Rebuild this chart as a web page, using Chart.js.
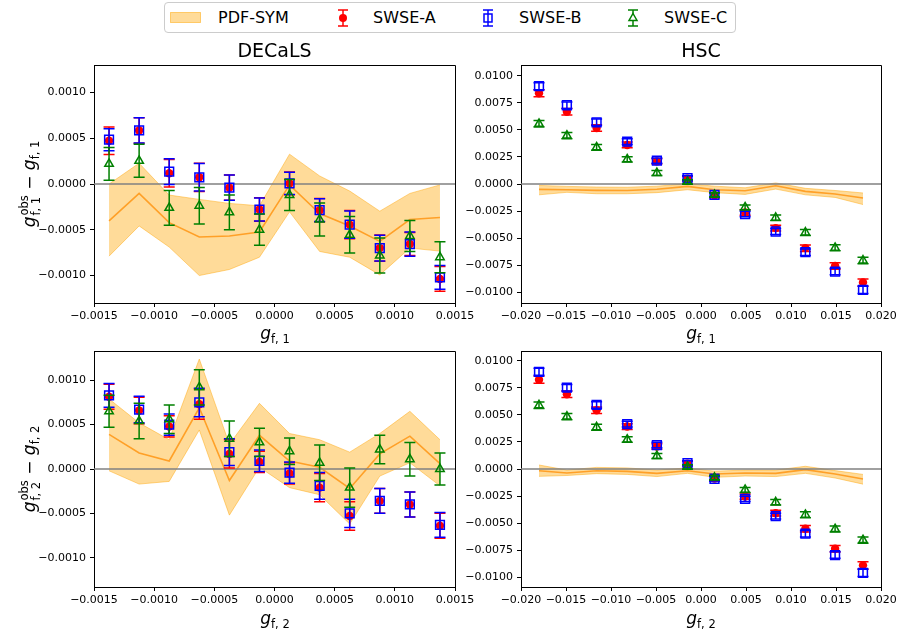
<!DOCTYPE html>
<html><head><meta charset="utf-8">
<script src="https://cdn.jsdelivr.net/npm/chart.js@4.4.1/dist/chart.umd.min.js"></script>
<style>
html,body{margin:0;padding:0;background:#fff;}
body{width:900px;height:635px;position:relative;overflow:hidden;font-family:"DejaVu Sans",sans-serif;color:#000;}
canvas{position:absolute;}
#legend{position:absolute;left:164px;top:2px;width:570px;height:29px;border:1px solid #cccccc;border-radius:4px;background:#fff;}
#legend .it{position:absolute;top:0;height:29px;line-height:29px;font-size:16px;}
#legend svg{position:absolute;}
.xlab{position:absolute;top:323px;transform:translateX(-50%);font-size:17px;line-height:20px;white-space:nowrap;}
.xlab.b{top:608px;}
.ylab{position:absolute;left:30px;transform:translate(-50%,-50%) rotate(-90deg);white-space:nowrap;font-size:17px;line-height:20px;}
.m i{font-family:"DejaVu Sans",sans-serif;font-style:italic;}
.m sub{font-size:11.5px;vertical-align:-0.35em;line-height:0;}
.ss{display:inline-block;vertical-align:-0.42em;font-size:11.5px;line-height:12px;margin-left:1px;}
.ss span{display:block;}
</style></head><body>

<div id="legend">
  <svg style="left:5px;top:9px" width="32" height="12"><rect x="0.5" y="0.5" width="30" height="10" fill="rgba(255,165,0,0.4)" stroke="rgba(255,165,0,0.5)"/></svg>
  <div class="it" style="left:53px">PDF-SYM</div>
  <svg style="left:167px;top:4px" width="22" height="22"><g stroke="#ff0000" stroke-width="1.5"><line x1="11" y1="3" x2="11" y2="19"/><line x1="6" y1="3" x2="16" y2="3"/><line x1="6" y1="19" x2="16" y2="19"/></g><circle cx="11" cy="11" r="4" fill="#ff0000"/></svg>
  <div class="it" style="left:208px">SWSE-A</div>
  <svg style="left:312px;top:4px" width="22" height="22"><g stroke="#0000ff" stroke-width="1.5"><line x1="11" y1="3" x2="11" y2="19"/><line x1="6" y1="3" x2="16" y2="3"/><line x1="6" y1="19" x2="16" y2="19"/><rect x="7" y="7" width="8" height="8" fill="none"/></g></svg>
  <div class="it" style="left:354px">SWSE-B</div>
  <svg style="left:457px;top:4px" width="22" height="22"><g stroke="#008000" stroke-width="1.5"><line x1="11" y1="3" x2="11" y2="19"/><line x1="6" y1="3" x2="16" y2="3"/><line x1="6" y1="19" x2="16" y2="19"/><polygon points="11,6.5 15,13.5 7,13.5" fill="#fff"/></g></svg>
  <div class="it" style="left:499px">SWSE-C</div>
</div>

<canvas id="c1" width="480" height="300" style="left:0;top:36px"></canvas>
<canvas id="c2" width="460" height="300" style="left:440px;top:36px"></canvas>
<canvas id="c3" width="480" height="300" style="left:0;top:321px"></canvas>
<canvas id="c4" width="460" height="300" style="left:440px;top:321px"></canvas>

<div class="xlab m" style="left:275px"><i>g</i><sub>f, 1</sub></div>
<div class="xlab m" style="left:701px"><i>g</i><sub>f, 1</sub></div>
<div class="xlab m b" style="left:275px"><i>g</i><sub>f, 2</sub></div>
<div class="xlab m b" style="left:701px"><i>g</i><sub>f, 2</sub></div>
<div class="ylab m" style="top:184px"><i>g</i><span class="ss"><span>obs</span><span>f, 1</span></span> − <i>g</i><sub>f, 1</sub></div>
<div class="ylab m" style="top:469px"><i>g</i><span class="ss"><span>obs</span><span>f, 2</span></span> − <i>g</i><sub>f, 2</sub></div>

<script>
// ---------- tick labels ----------
const xTicksDECaLS = [-0.0015, -0.001, -0.0005, 0, 0.0005, 0.001, 0.0015];
const yTicksDECaLS = [-0.001, -0.0005, 0, 0.0005, 0.001];
const xTicksHSC = [-0.02, -0.015, -0.01, -0.005, 0, 0.005, 0.01, 0.015, 0.02];
const yTicksHSC = [-0.01, -0.0075, -0.005, -0.0025, 0, 0.0025, 0.005, 0.0075, 0.01];

// ---------- bin centres ----------
const xDECaLS = [-0.001375, -0.001125, -0.000875, -0.000625, -0.000375, -0.000125, 0.000125, 0.000375, 0.000625, 0.000875, 0.001125, 0.001375];
const xHSC = [-0.0180, -0.0149, -0.0116, -0.0082, -0.0049, -0.0015, 0.0015, 0.0049, 0.0083, 0.0116, 0.0149, 0.0180];

// ---------- DECaLS g1 ----------
const d1SymMid = [-0.000403, -0.000103, -0.000422, -0.000579, -0.000568, -0.000524, -0.00001, -0.000322, -0.000458, -0.000627, -0.000388, -0.000366];
const d1SymHi  = [0.0, 0.000227, -0.000121, -0.000168, -0.000212, -0.000238, 0.000326, 0.000088, -0.000077, -0.000297, -0.000103, -0.00001];
const d1SymLo  = [-0.000788, -0.000458, -0.000689, -0.001, -0.000934, -0.0008, -0.000304, -0.000737, -0.0008, -0.000993, -0.0007, -0.000733];
const d1A    = [0.000473, 0.000585, 0.000117, 0.000073, -0.00004, -0.000279, 0.000007, -0.000286, -0.000444, -0.0007, -0.000656, -0.001037];
const d1AErr = [0.00015, 0.00014, 0.00015, 0.000155, 0.000138, 0.000128, 0.000125, 0.000127, 0.000155, 0.000143, 0.000125, 0.000135];
const d1B    = [0.000484, 0.000587, 0.000135, 0.000073, -0.00004, -0.000279, 0.000007, -0.000286, -0.000444, -0.0007, -0.000656, -0.00102];
const d1BErr = [0.00012, 0.000138, 0.00014, 0.00015, 0.000138, 0.000125, 0.000122, 0.000125, 0.00015, 0.00014, 0.000132, 0.00013];
const d1C    = [0.00022, 0.000253, -0.00026, -0.000238, -0.00031, -0.000499, -0.00012, -0.000388, -0.000554, -0.000781, -0.000568, -0.0008];
const d1CErr = [0.00018, 0.00018, 0.00019, 0.0002, 0.00019, 0.00017, 0.00017, 0.00018, 0.0002, 0.00019, 0.00017, 0.00017];

// ---------- HSC g1 ----------
const h1SymMid = [-0.0005, -0.00053, -0.00059, -0.0006, -0.00049, -0.00022, -0.00053, -0.00062, -0.00016, -0.00068, -0.00093, -0.0013];
const h1SymHi  = [-0.00013, -0.00022, -0.00028, -0.0003, -0.0002, 0.00003, -0.0002, -0.00035, 0.0001, -0.0004, -0.0006, -0.00083];
const h1SymLo  = [-0.001, -0.00077, -0.0009, -0.0009, -0.0008, -0.00053, -0.0008, -0.00096, -0.00047, -0.001, -0.00124, -0.0019];
const h1A    = [0.00839, 0.00667, 0.00518, 0.00361, 0.00209, 0.0005, -0.00105, -0.00263, -0.00408, -0.00593, -0.00757, -0.00911];
const h1AErr = [0.00033, 0.0003, 0.0003, 0.00027, 0.00025, 0.00022, 0.00022, 0.00025, 0.00027, 0.0003, 0.0003, 0.00033];
const h1B    = [0.00904, 0.00728, 0.0057, 0.00392, 0.00216, 0.00055, -0.001, -0.00278, -0.00439, -0.0063, -0.00809, -0.00979];
const h1BErr = [0.00033, 0.0003, 0.0003, 0.00027, 0.00025, 0.00022, 0.00022, 0.00025, 0.00027, 0.0003, 0.0003, 0.00033];
const h1C    = [0.00556, 0.00447, 0.00339, 0.00228, 0.00102, 0.0002, -0.001, -0.00216, -0.00312, -0.00448, -0.0059, -0.00707];
const h1CErr = [0.0003, 0.00028, 0.00027, 0.00025, 0.00023, 0.0002, 0.0002, 0.00023, 0.00025, 0.00027, 0.00028, 0.0003];

// ---------- DECaLS g2 ----------
const d2SymMid = [0.00039, 0.00018, 0.00009, 0.00069, -0.00013, 0.00038, 0.00009, 0.00002, -0.00022, 0.00017, 0.00037, 0.00006];
const d2SymHi  = [0.00079, 0.00052, 0.00033, 0.00124, 0.00028, 0.00074, 0.0004, 0.00033, 0.00019, 0.0004, 0.00065, 0.00033];
const d2SymLo  = [-0.00002, -0.00017, -0.00014, 0.00044, -0.00052, 0.00002, -0.00021, -0.00029, -0.00062, -0.00008, 0.00007, -0.00019];
const d2A    = [0.000814, 0.00066, 0.00048, 0.00073, 0.00017, 0.00008, -0.00005, -0.00021, -0.00053, -0.00036, -0.0004, -0.00064];
const d2AErr = [0.00014, 0.00015, 0.00012, 0.00017, 0.00016, 0.00012, 0.00012, 0.00016, 0.00016, 0.00014, 0.00014, 0.00014];
const d2B    = [0.00083, 0.00067, 0.0005, 0.00075, 0.00019, 0.000093, -0.00004, -0.00019, -0.0005, -0.00036, -0.0004, -0.00063];
const d2BErr = [0.000135, 0.00015, 0.00012, 0.00016, 0.00015, 0.00012, 0.00012, 0.00015, 0.00016, 0.00014, 0.00014, 0.00014];
const d2C    = [0.00065, 0.00054, 0.00056, 0.00092, 0.00034, 0.0003, 0.0002, 0.00007, -0.00021, 0.00022, 0.00011, 0.0];
const d2CErr = [0.00018, 0.0002, 0.00016, 0.0002, 0.0002, 0.00016, 0.00015, 0.0002, 0.00022, 0.00016, 0.00019, 0.00018];

// ---------- HSC g2 ----------
const h2SymMid = [-0.00016, -0.00037, -0.00016, -0.00022, -0.0004, -0.00016, -0.00046, -0.00037, -0.0004, -0.00006, -0.00046, -0.00092];
const h2SymHi  = [0.00037, -0.0001, 0.00015, 0.0001, -0.0001, 0.0001, -0.0002, -0.0001, -0.0001, 0.00025, -0.00015, -0.0005];
const h2SymLo  = [-0.00068, -0.0006, -0.00043, -0.0005, -0.0007, -0.0004, -0.00077, -0.00065, -0.0007, -0.0004, -0.00083, -0.0014];
const h2A    = [0.00824, 0.0069, 0.00543, 0.00392, 0.00208, 0.0005, -0.00088, -0.00255, -0.00408, -0.00552, -0.00736, -0.0089];
const h2AErr = [0.00033, 0.0003, 0.0003, 0.00027, 0.00025, 0.00022, 0.00022, 0.00025, 0.00027, 0.0003, 0.0003, 0.00033];
const h2B    = [0.00898, 0.00751, 0.00592, 0.00414, 0.00221, 0.00055, -0.0009, -0.00276, -0.00436, -0.00598, -0.00795, -0.0096];
const h2BErr = [0.00033, 0.0003, 0.0003, 0.00027, 0.00025, 0.00022, 0.00022, 0.00025, 0.00027, 0.0003, 0.0003, 0.00033];
const h2C    = [0.00589, 0.00484, 0.00386, 0.00272, 0.0012, 0.0002, -0.0008, -0.00193, -0.00307, -0.00423, -0.00555, -0.00657];
const h2CErr = [0.0003, 0.00028, 0.00027, 0.00025, 0.00023, 0.0002, 0.0002, 0.00023, 0.00025, 0.00027, 0.00028, 0.0003];

// ---------- helpers ----------
Chart.defaults.font.family = '"DejaVu Sans", sans-serif';
Chart.defaults.color = '#000';

const zip = (xs, ys) => xs.map((x, i) => ({x: x, y: ys[i]}));
const fmt = d => v => {
  const s = Math.abs(v) < 1e-12 ? (0).toFixed(d) : Number(v).toFixed(d);
  return s.replace('-', '\u2212');
};

const errorBars = {
  id: 'errorBars',
  beforeDatasetDraw(chart, args) {
    const ds = chart.data.datasets[args.index];
    if (!ds.errs) return;
    const xs = chart.scales.x, ys = chart.scales.y, ctx = chart.ctx, a = chart.chartArea;
    ctx.save();
    ctx.beginPath(); ctx.rect(a.left, a.top, a.right - a.left, a.bottom - a.top); ctx.clip();
    ctx.strokeStyle = ds.pointBorderColor; ctx.lineWidth = 1.5;
    ds.data.forEach((p, i) => {
      const px = xs.getPixelForValue(p.x);
      const y1 = ys.getPixelForValue(p.y + ds.errs[i]);
      const y2 = ys.getPixelForValue(p.y - ds.errs[i]);
      ctx.beginPath();
      ctx.moveTo(px, y1); ctx.lineTo(px, y2);
      ctx.moveTo(px - 5.5, y1); ctx.lineTo(px + 5.5, y1);
      ctx.moveTo(px - 5.5, y2); ctx.lineTo(px + 5.5, y2);
      ctx.stroke();
    });
    ctx.restore();
  }
};

const frame = {
  id: 'frame',
  afterDatasetDraw(chart, args) {
    if (args.index !== 2) return;
    const ys = chart.scales.y, a = chart.chartArea, ctx = chart.ctx;
    const y0 = ys.getPixelForValue(0);
    ctx.save();
    ctx.strokeStyle = '#808080'; ctx.lineWidth = 1.6;
    ctx.beginPath(); ctx.moveTo(a.left, y0); ctx.lineTo(a.right, y0); ctx.stroke();
    ctx.restore();
  },
  afterDraw(chart) {
    const a = chart.chartArea, ctx = chart.ctx;
    ctx.save();
    ctx.strokeStyle = '#000'; ctx.lineWidth = 1;
    ctx.beginPath();
    ctx.moveTo(Math.round(a.left), Math.round(a.top) + 0.5);
    ctx.lineTo(Math.round(a.right) + 0.5, Math.round(a.top) + 0.5);
    ctx.lineTo(Math.round(a.right) + 0.5, Math.round(a.bottom));
    ctx.stroke();
    ctx.restore();
  }
};

function makeChart(id, o) {
  const datasets = [
    {type: 'line', label: 'PDF-SYM upper', data: zip(o.x, o.hi), borderColor: 'rgba(255,165,0,0.45)', borderWidth: 1,
     backgroundColor: 'rgba(255,165,0,0.4)', fill: '+1', pointRadius: 0, tension: 0, order: 7},
    {type: 'line', label: 'PDF-SYM lower', data: zip(o.x, o.lo), borderColor: 'rgba(255,165,0,0.45)', borderWidth: 1,
     fill: false, pointRadius: 0, tension: 0, order: 6},
    {type: 'line', label: 'PDF-SYM', data: zip(o.x, o.mid), borderColor: 'rgba(255,140,0,0.75)', borderWidth: 1.6,
     fill: false, pointRadius: 0, tension: 0, order: 5},
    {type: 'scatter', label: 'SWSE-A', data: zip(o.x, o.a), errs: o.ae, pointStyle: 'circle', pointRadius: 4.2,
     pointBackgroundColor: '#ff0000', pointBorderColor: '#ff0000', pointBorderWidth: 0, order: 3},
    {type: 'scatter', label: 'SWSE-B', data: zip(o.x, o.b), errs: o.be, pointStyle: 'rect', pointRadius: 6.2,
     pointBackgroundColor: 'rgba(0,0,0,0)', pointBorderColor: '#0000ff', pointBorderWidth: 1.5, order: 2},
    {type: 'scatter', label: 'SWSE-C', data: zip(o.x, o.c), errs: o.ce, pointStyle: 'triangle', pointRadius: 4.9,
     pointBackgroundColor: 'rgba(0,0,0,0)', pointBorderColor: '#008000', pointBorderWidth: 1.5, order: 1}
  ];
  const axisCommon = {
    type: 'linear',
    border: {display: true, color: '#000', width: 1},
    grid: {display: true, drawOnChartArea: false, drawTicks: true, tickLength: 4, tickColor: '#000', tickWidth: 1},
  };
  return new Chart(document.getElementById(id), {
    type: 'scatter',
    data: {datasets: datasets},
    plugins: [errorBars, frame],
    options: {
      responsive: false, animation: false, events: [],
      layout: {padding: {top: o.padTop, right: o.padRight, left: 0, bottom: 0}},
      plugins: {
        legend: {display: false}, tooltip: {enabled: false},
        title: {display: !!o.title, text: o.title, fullSize: false, color: '#000',
                font: {size: 19, weight: 'normal'}, padding: {top: 4.5, bottom: 1.7}}
      },
      scales: {
        x: Object.assign({}, axisCommon, {
          min: o.xmin, max: o.xmax,
          afterBuildTicks: s => { s.ticks = o.xt.map(v => ({value: v})); },
          afterFit: s => { s.height = o.xh; },
          ticks: {autoSkip: false, maxRotation: 0, padding: 3, color: '#000', font: {size: 11}, callback: fmt(o.xd)}
        }),
        y: Object.assign({}, axisCommon, {
          min: o.ymin, max: o.ymax,
          afterBuildTicks: s => { s.ticks = o.yt.map(v => ({value: v})); },
          afterFit: s => { s.width = o.yw; },
          ticks: {autoSkip: false, padding: 4, color: '#000', font: {size: 11}, callback: fmt(o.yd)}
        })
      }
    }
  });
}

makeChart('c1', {title: 'DECaLS', padTop: 0, padRight: 25, xh: 33, yw: 94,
  x: xDECaLS, mid: d1SymMid, hi: d1SymHi, lo: d1SymLo, a: d1A, ae: d1AErr, b: d1B, be: d1BErr, c: d1C, ce: d1CErr,
  xmin: -0.0015, xmax: 0.0015, ymin: -0.0013, ymax: 0.0013, xt: xTicksDECaLS, yt: yTicksDECaLS, xd: 4, yd: 4});
makeChart('c2', {title: 'HSC', padTop: 0, padRight: 19, xh: 33, yw: 81,
  x: xHSC, mid: h1SymMid, hi: h1SymHi, lo: h1SymLo, a: h1A, ae: h1AErr, b: h1B, be: h1BErr, c: h1C, ce: h1CErr,
  xmin: -0.02, xmax: 0.02, ymin: -0.011, ymax: 0.011, xt: xTicksHSC, yt: yTicksHSC, xd: 3, yd: 4});
makeChart('c3', {title: '', padTop: 30, padRight: 25, xh: 34, yw: 94,
  x: xDECaLS, mid: d2SymMid, hi: d2SymHi, lo: d2SymLo, a: d2A, ae: d2AErr, b: d2B, be: d2BErr, c: d2C, ce: d2CErr,
  xmin: -0.0015, xmax: 0.0015, ymin: -0.00133, ymax: 0.00133, xt: xTicksDECaLS, yt: yTicksDECaLS, xd: 4, yd: 4});
makeChart('c4', {title: '', padTop: 30, padRight: 19, xh: 34, yw: 81,
  x: xHSC, mid: h2SymMid, hi: h2SymHi, lo: h2SymLo, a: h2A, ae: h2AErr, b: h2B, be: h2BErr, c: h2C, ce: h2CErr,
  xmin: -0.02, xmax: 0.02, ymin: -0.0109, ymax: 0.0109, xt: xTicksHSC, yt: yTicksHSC, xd: 3, yd: 4});
</script>
</body></html>
